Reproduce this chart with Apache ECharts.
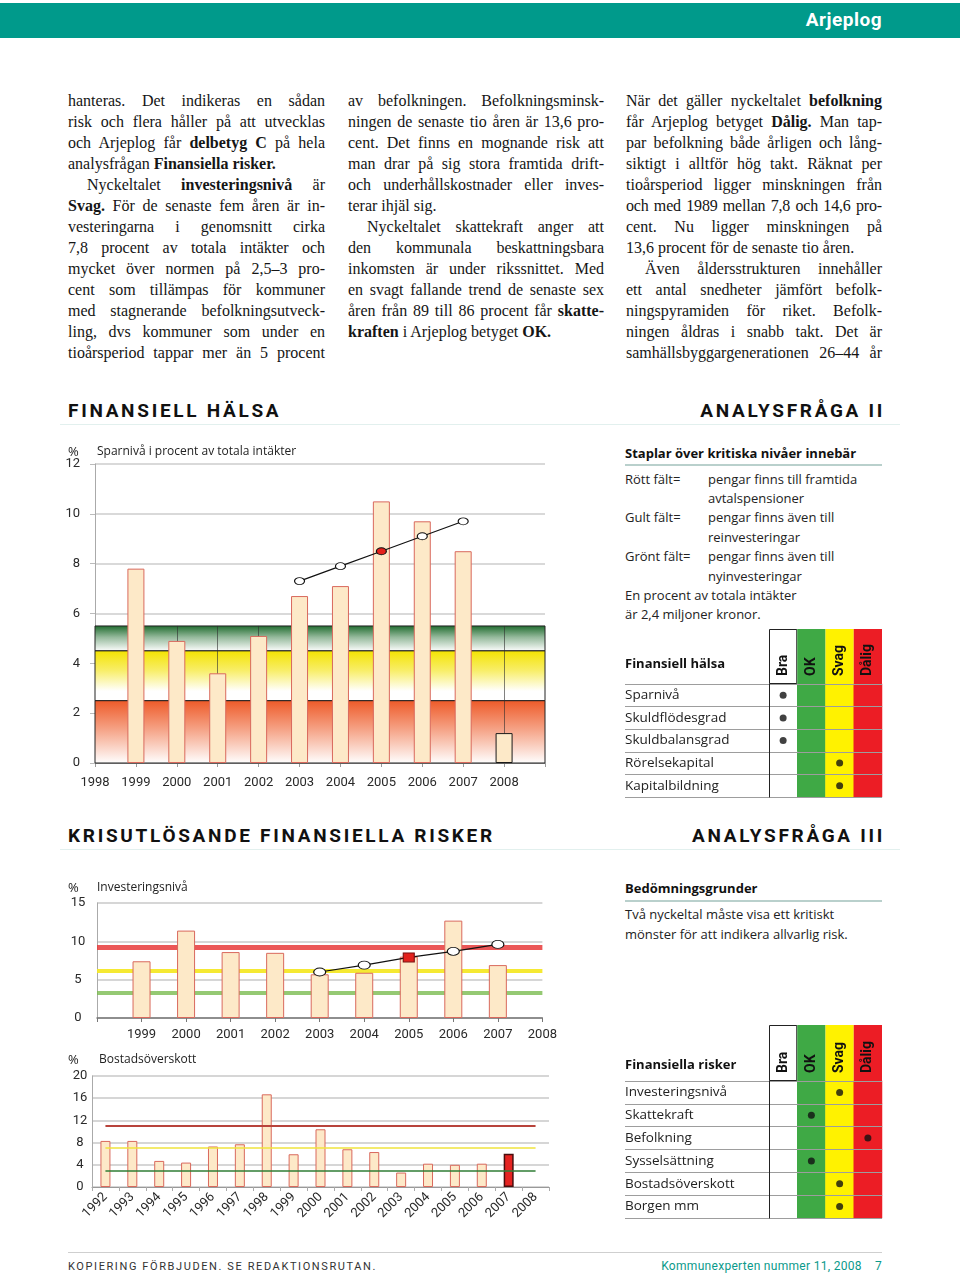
<!DOCTYPE html>
<html lang="sv"><head><meta charset="utf-8"><title>Arjeplog</title>
<script src="https://cdn.jsdelivr.net/npm/echarts@6/dist/echarts.min.js"></script>
<style>
html,body{margin:0;padding:0;}
body{width:960px;height:1277px;position:relative;background:#fff;overflow:hidden;font-family:Roboto,"Noto Sans",sans-serif;color:#1a1a1a;}
.a{position:absolute;}
#topbar{left:0;top:3px;width:960px;height:35px;background:#009a8b;}
#topbar span{position:absolute;right:78px;top:6px;color:#fff;font-weight:bold;font-size:19px;letter-spacing:0.5px;line-height:22px;}
.col{position:absolute;top:89.5px;width:257px;font-family:"Liberation Serif","DejaVu Serif",serif;font-size:16px;line-height:21px;color:#151515;}
.col div{text-align:justify;text-align-last:justify;}
.col div.e{text-align-last:left;}
.col div.i{text-indent:19px;}
.h2{position:absolute;font-weight:bold;font-size:19px;letter-spacing:2.7px;line-height:22px;color:#111;}
.rule{position:absolute;height:1px;background:#e2f0ee;}
.sub{position:absolute;left:625px;font-family:"Open Sans",sans-serif;font-weight:bold;font-size:13px;line-height:16px;color:#111;}
.subrule{position:absolute;left:625px;width:257px;height:1.5px;background:#b9d0cc;}
.legend{position:absolute;left:625px;font-family:"Open Sans",sans-serif;font-size:13px;line-height:19.4px;color:#222;white-space:nowrap;}
.legend .k{display:inline-block;width:83px;}
#foot1{left:68px;top:1260px;font-size:11px;letter-spacing:1.6px;color:#333;line-height:14px;}
#foot2{right:78px;top:1259px;font-size:12px;letter-spacing:0.3px;color:#0b9a8b;line-height:15px;}
</style></head>
<body>
<div id="topbar" class="a"><span>Arjeplog</span></div>

<div class="col" style="left:68px">
<div>hanteras. Det indikeras en sådan</div>
<div>risk och flera håller på att utvecklas</div>
<div>och Arjeplog får <b>delbetyg C</b> på hela</div>
<div class="e">analysfrågan <b>Finansiella risker.</b></div>
<div class="i">Nyckeltalet <b>investeringsnivå</b> är</div>
<div><b>Svag.</b> För de senaste fem åren är in-</div>
<div>vesteringarna i genomsnitt cirka</div>
<div>7,8 procent av totala intäkter och</div>
<div>mycket över normen på 2,5–3 pro-</div>
<div>cent som tillämpas för kommuner</div>
<div>med stagnerande befolkningsutveck-</div>
<div>ling, dvs kommuner som under en</div>
<div>tioårsperiod tappar mer än 5 procent</div>
</div>

<div class="col" style="left:348px;width:256px">
<div>av befolkningen. Befolkningsminsk-</div>
<div>ningen de senaste tio åren är 13,6 pro-</div>
<div>cent. Det finns en mognande risk att</div>
<div>man drar på sig stora framtida drift-</div>
<div>och underhållskostnader eller inves-</div>
<div class="e">terar ihjäl sig.</div>
<div class="i">Nyckeltalet skattekraft anger att</div>
<div>den kommunala beskattningsbara</div>
<div>inkomsten är under rikssnittet. Med</div>
<div>en svagt fallande trend de senaste sex</div>
<div>åren från 89 till 86 procent får <b>skatte-</b></div>
<div class="e"><b>kraften</b> i Arjeplog betyget <b>OK.</b></div>
</div>

<div class="col" style="left:626px;width:256px">
<div>När det gäller nyckeltalet <b>befolkning</b></div>
<div>får Arjeplog betyget <b>Dålig.</b> Man tap-</div>
<div>par befolkning både årligen och lång-</div>
<div>siktigt i alltför hög takt. Räknat per</div>
<div>tioårsperiod ligger minskningen från</div>
<div style="letter-spacing:-0.15px">och med 1989 mellan 7,8 och 14,6 pro-</div>
<div>cent. Nu ligger minskningen på</div>
<div class="e">13,6 procent för de senaste tio åren.</div>
<div class="i">Även åldersstrukturen innehåller</div>
<div>ett antal snedheter jämfört befolk-</div>
<div>ningspyramiden för riket. Befolk-</div>
<div>ningen åldras i snabb takt. Det är</div>
<div>samhällsbyggargenerationen 26–44 år</div>
</div>

<div class="h2" style="left:68px;top:400px">FINANSIELL HÄLSA</div>
<div class="h2" style="right:75px;top:400px">ANALYSFRÅGA II</div>
<div class="rule" style="left:60px;width:840px;top:424px"></div>
<div class="h2" style="left:68px;top:825px">KRISUTLÖSANDE FINANSIELLA RISKER</div>
<div class="h2" style="right:75px;top:825px">ANALYSFRÅGA III</div>
<div class="rule" style="left:60px;width:840px;top:849px"></div>

<div class="sub" style="top:445px">Staplar över kritiska nivåer innebär</div>
<div class="subrule" style="top:464px"></div>
<div class="legend" style="top:469.5px">
<div><span class="k">Rött fält=</span>pengar finns till framtida</div>
<div><span class="k"></span>avtalspensioner</div>
<div><span class="k">Gult fält=</span>pengar finns även till</div>
<div><span class="k"></span>reinvesteringar</div>
<div><span class="k">Grönt fält=</span>pengar finns även till</div>
<div><span class="k"></span>nyinvesteringar</div>
<div>En procent av totala intäkter</div>
<div>är 2,4 miljoner kronor.</div>
</div>

<div class="sub" style="top:880px">Bedömningsgrunder</div>
<div class="subrule" style="top:900px"></div>
<div class="legend" style="top:904px;line-height:20px">
<div>Två nyckeltal måste visa ett kritiskt</div>
<div>mönster för att indikera allvarlig risk.</div>
</div>

<div id="c1" class="a" style="left:60px;top:440px;width:500px;height:370px"></div>
<div id="c2" class="a" style="left:60px;top:875px;width:500px;height:175px"></div>
<div id="c3" class="a" style="left:60px;top:1045px;width:500px;height:200px"></div>
<div id="t1" class="a" style="left:615px;top:620px;width:280px;height:185px"></div>
<div id="t2" class="a" style="left:615px;top:1015px;width:280px;height:210px"></div>

<div class="a" style="left:68px;top:1252px;width:814px;height:1px;background:#cfcfcf"></div>
<div id="foot1" class="a">KOPIERING FÖRBJUDEN. SE REDAKTIONSRUTAN.</div>
<div id="foot2" class="a">Kommunexperten nummer 11, 2008&nbsp;&nbsp;&nbsp;&nbsp;7</div>

<script>
// ---- Data ----
const sparYears = [1999, 2000, 2001, 2002, 2003, 2004, 2005, 2006, 2007, 2008];
const sparValues = [7.8, 4.9, 3.6, 5.1, 6.7, 7.1, 10.5, 9.7, 8.5, 1.2];
const sparTrendYears = [2003, 2004, 2005, 2006, 2007];
const sparTrend = [7.3, 7.9, 8.5, 9.1, 9.7];
const sparTickLabels = [1998, 1999, 2000, 2001, 2002, 2003, 2004, 2005, 2006, 2007, 2008];
const sparBands = [[4.5, 5.5], [2.5, 4.5], [0, 2.5]]; // grönt, gult, rött fält
const sparHighlightYear = 2008;
const sparTrendHighlightYear = 2005;

const invYears = [1999, 2000, 2001, 2002, 2003, 2004, 2005, 2006, 2007];
const invValues = [7.4, 11.4, 8.6, 8.5, 5.7, 5.9, 8.0, 12.7, 6.9];
const invTrendYears = [2003, 2004, 2005, 2006, 2007];
const invTrend = [6.0, 6.9, 7.9, 8.7, 9.6];
const invTickLabels = [1999, 2000, 2001, 2002, 2003, 2004, 2005, 2006, 2007, 2008];
const invLevels = [9.25, 6.2, 3.25]; // röd, gul, grön nivå
const invTrendHighlightYear = 2005;

const bostYears = ['1992','1993','1994','1995','1996','1997','1998','1999','2000','2001','2002','2003','2004','2005','2006','2007','2008'];
const bostValues = [8.3, 8.3, 4.7, 4.4, 7.3, 7.7, 16.7, 5.9, 10.4, 6.8, 6.3, 2.6, 4.2, 4.0, 4.2, 6.0, null];
const bostLevels = [11, 7, 3]; // röd, gul, grön nivå
const bostHighlightYear = '2007';

const ratingCols = ['Bra', 'OK', 'Svag', 'Dålig'];
const halsaRows = ['Sparnivå', 'Skuldflödesgrad', 'Skuldbalansgrad', 'Rörelsekapital', 'Kapitalbildning'];
const halsaRatings = ['Bra', 'Bra', 'Bra', 'Svag', 'Svag'];
const riskRows = ['Investeringsnivå', 'Skattekraft', 'Befolkning', 'Sysselsättning', 'Bostadsöverskott', 'Borgen mm'];
const riskRatings = ['Svag', 'OK', 'Dålig', 'OK', 'Svag', 'Svag'];

// ---- Styles ----
const AX = {fontFamily: 'Roboto', fontSize: 13, color: '#2a2a2a'};
const TT = {fontFamily: 'Open Sans', fontSize: 12, fontWeight: 'normal', color: '#222'};
const BAR_FILL = '#fde9c8', BAR_EDGE = '#d9695d';
function grad(stops) {
  return new echarts.graphic.LinearGradient(0, 0, 0, 1, stops.map(s => ({offset: s[0], color: s[1]})));
}
const BAND_STOPS = [
  [[0, '#1d6a2c'], [0.45, '#94b99b'], [1, '#ffffff']],
  [[0, '#f4e300'], [0.4, '#f8ee6a'], [0.8, '#ffffff'], [1, '#ffffff']],
  [[0, '#ee5a28'], [0.45, '#f5a184'], [1, '#ffffff']]
];

// ---- Chart 1: Sparnivå ----
const c1 = echarts.init(document.getElementById('c1'));
c1.setOption({
  animation: false,
  title: [
    {text: '%', left: 8, top: 6, padding: 0, textStyle: Object.assign({}, TT, {fontSize: 13})},
    {text: 'Sparnivå i procent av totala intäkter', left: 37, top: 6, padding: 0, textStyle: TT}
  ],
  grid: {left: 35, top: 24, width: 450, height: 299},
  xAxis: {
    type: 'value', min: 1998, max: 2009, interval: 1,
    splitLine: {show: false},
    axisLine: {lineStyle: {color: '#9a9a9a'}},
    axisTick: {show: true, length: 4, lineStyle: {color: '#9a9a9a'}},
    axisLabel: Object.assign({}, AX, {margin: 13, showMinLabel: true, showMaxLabel: true,
      formatter: v => sparTickLabels.includes(v) ? String(v) : ''})
  },
  yAxis: {
    type: 'value', min: 0, max: 12, interval: 2,
    axisLine: {show: true, lineStyle: {color: '#aaaaaa'}},
    axisTick: {show: true, length: 5, lineStyle: {color: '#bbbbbb'}},
    splitLine: {lineStyle: {color: '#cccccc', width: 1.5}},
    axisLabel: Object.assign({}, AX, {margin: 15})
  },
  series: [
    {
      type: 'line', z: 1, silent: true, symbol: 'none', lineStyle: {opacity: 0},
      data: sparYears.map((y, i) => [y, sparValues[i]]),
      markArea: {
        silent: true, z: 1,
        data: sparBands.map((b, i) => [
          {yAxis: b[1], itemStyle: {color: grad(BAND_STOPS[i]), borderColor: '#222', borderWidth: 1}},
          {yAxis: b[0]}
        ])
      },
      markLine: {
        silent: true, z: 1, symbol: 'none', label: {show: false},
        lineStyle: {color: 'rgba(45,45,45,0.6)', width: 1, type: 'solid'},
        data: sparYears.map(y => [{coord: [y, 0]}, {coord: [y, sparBands[0][1]]}])
      }
    },
    {
      type: 'bar', z: 2, barWidth: 17, silent: true,
      itemStyle: {color: BAR_FILL, borderColor: BAR_EDGE, borderWidth: 1},
      data: sparYears.map((y, i) => ({
        value: [y, sparValues[i]],
        itemStyle: y === sparHighlightYear ? {borderColor: '#1a1a1a'} : {}
      }))
    },
    {
      type: 'line', z: 3, silent: true, symbol: 'circle', symbolSize: [10, 7],
      lineStyle: {color: '#111', width: 1.2},
      itemStyle: {color: '#fff', borderColor: '#111', borderWidth: 1},
      data: sparTrendYears.map((y, i) => ({
        value: [y, sparTrend[i]],
        itemStyle: y === sparTrendHighlightYear ? {color: '#e3211c'} : {}
      }))
    }
  ]
});

// ---- Chart 2: Investeringsnivå ----
const INV_LEVEL_STYLES = [
  {color: 'rgba(232,58,58,0.85)', width: 5},
  {color: 'rgba(244,232,40,0.95)', width: 4},
  {color: 'rgba(122,188,80,0.8)', width: 4}
];
const c2 = echarts.init(document.getElementById('c2'));
c2.setOption({
  animation: false,
  title: [
    {text: '%', left: 8, top: 7, padding: 0, textStyle: Object.assign({}, TT, {fontSize: 13})},
    {text: 'Investeringsnivå', left: 37, top: 7, padding: 0, textStyle: TT}
  ],
  grid: {left: 37, top: 28, width: 446, height: 115},
  xAxis: {
    type: 'value', min: 1998, max: 2008, interval: 1,
    splitLine: {show: false},
    axisLine: {lineStyle: {color: '#777', width: 1.5}},
    axisTick: {show: true, length: 4, lineStyle: {color: '#777'}},
    axisLabel: Object.assign({}, AX, {margin: 10, showMinLabel: true, showMaxLabel: true,
      formatter: v => invTickLabels.includes(v) ? String(v) : ''})
  },
  yAxis: {
    type: 'value', min: 0, max: 15, interval: 5,
    axisLine: {show: true, lineStyle: {color: '#aaaaaa'}},
    axisTick: {show: false},
    splitLine: {lineStyle: {color: '#c8c8c8', width: 1.5}},
    axisLabel: Object.assign({}, AX, {margin: 19, align: 'center'})
  },
  series: [
    {
      type: 'line', z: 1, silent: true, symbol: 'none', lineStyle: {opacity: 0},
      data: invYears.map((y, i) => [y, invValues[i]]),
      markLine: {
        silent: true, z: 1, symbol: 'none', label: {show: false},
        data: invLevels.map((v, i) => ({yAxis: v, lineStyle: Object.assign({type: 'solid'}, INV_LEVEL_STYLES[i])}))
      }
    },
    {
      type: 'bar', z: 2, barWidth: 18, silent: true,
      itemStyle: {color: BAR_FILL, borderColor: BAR_EDGE, borderWidth: 1},
      data: invYears.map((y, i) => [y, invValues[i]])
    },
    {
      type: 'line', z: 3, silent: true, symbol: 'circle', symbolSize: [12, 8],
      lineStyle: {color: '#111', width: 1.2},
      itemStyle: {color: '#fff', borderColor: '#111', borderWidth: 1},
      data: invTrendYears.map((y, i) => (y === invTrendHighlightYear
        ? {value: [y, invTrend[i]], symbol: 'rect', symbolSize: [11, 9], itemStyle: {color: '#e3211c', borderColor: '#7a1010'}}
        : {value: [y, invTrend[i]]}))
    }
  ]
});

// ---- Chart 3: Bostadsöverskott ----
const BOST_LEVEL_STYLES = [
  {color: '#b8433b', width: 2},
  {color: '#efe33c', width: 1.5},
  {color: '#2f7d35', width: 1.5}
];
const c3 = echarts.init(document.getElementById('c3'));
c3.setOption({
  animation: false,
  title: [
    {text: '%', left: 8, top: 9, padding: 0, textStyle: Object.assign({}, TT, {fontSize: 13})},
    {text: 'Bostadsöverskott', left: 39, top: 9, padding: 0, textStyle: TT}
  ],
  grid: {left: 32, top: 31, width: 457, height: 111},
  xAxis: {
    type: 'category', data: bostYears,
    axisLine: {lineStyle: {color: '#999'}},
    axisTick: {show: true, length: 4, lineStyle: {color: '#aaa'}},
    axisLabel: Object.assign({}, AX, {rotate: 45, margin: 8, interval: 0})
  },
  yAxis: {
    type: 'value', min: 0, max: 20, interval: 4,
    axisLine: {show: true, lineStyle: {color: '#aaaaaa'}},
    axisTick: {show: false},
    splitLine: {lineStyle: {color: '#c8c8c8', width: 1.5}},
    axisLabel: Object.assign({}, AX, {margin: 12, align: 'center'})
  },
  series: [
    {
      type: 'bar', barWidth: 10, silent: true,
      itemStyle: {color: BAR_FILL, borderColor: BAR_EDGE, borderWidth: 1},
      data: bostYears.map((y, i) => ({
        value: bostValues[i],
        itemStyle: y === bostHighlightYear ? {color: '#e52321', borderColor: '#4a0d0d', borderWidth: 1.5} : {}
      })),
      markLine: {
        silent: true, symbol: 'none', label: {show: false},
        data: bostLevels.map((v, i) => [
          {coord: [bostYears[0], v], lineStyle: Object.assign({type: 'solid'}, BOST_LEVEL_STYLES[i])},
          {coord: [bostYears[bostYears.length - 1], v]}
        ])
      }
    }
  ]
});

// ---- Rating tables ----
const COL_COLORS = ['#ffffff', '#3fa945', '#fff200', '#ec1d25'];
function ratingTable(el, title, titleTop, rows, ratings, L) {
  const ch = echarts.init(el);
  ch.setOption({
    animation: false,
    title: {text: title, left: 10, top: titleTop, padding: 0,
      textStyle: {fontFamily: 'Open Sans', fontSize: 13, fontWeight: 'bold', color: '#111'}},
    visualMap: {type: 'piecewise', show: false, seriesIndex: 1, dimension: 2,
      pieces: COL_COLORS.map((c, i) => ({value: i, color: c}))},
    grid: [
      {left: 154, width: 113, top: L.hTop, height: L.hH},
      {left: 154, width: 113, top: L.rTop, height: L.rH}
    ],
    xAxis: [
      {gridIndex: 0, type: 'category', data: ratingCols, show: false},
      {gridIndex: 1, type: 'category', data: ratingCols, show: false}
    ],
    yAxis: [
      {gridIndex: 0, type: 'value', min: 0, max: 1, show: false},
      {gridIndex: 1, type: 'category', data: rows, inverse: true, z: 10,
        axisLine: {show: true, lineStyle: {color: '#222', width: 1}},
        axisTick: {show: true, length: 144, lineStyle: {color: '#9d9d9d'}},
        splitLine: {show: true, lineStyle: {color: '#9d9d9d'}},
        axisLabel: {interval: 0, align: 'left', margin: 144, fontFamily: 'Open Sans', fontSize: 13.5, color: '#222'}}
    ],
    series: [
      {type: 'bar', xAxisIndex: 0, yAxisIndex: 0, barCategoryGap: '0%', silent: true,
        data: ratingCols.map((c, i) => ({value: 1, itemStyle: {color: COL_COLORS[i],
          borderColor: i === 0 ? '#222' : COL_COLORS[i], borderWidth: i === 0 ? 1 : 0}})),
        label: {show: true, position: 'insideBottom', distance: 8, rotate: 90, align: 'left',
          verticalAlign: 'middle', formatter: '{b}', fontFamily: 'Roboto', fontWeight: 'bold', fontSize: 14, color: '#111'}},
      {type: 'heatmap', xAxisIndex: 1, yAxisIndex: 1, silent: true,
        data: rows.flatMap((r, ri) => ratingCols.map((c, ci) => [ci, ri, ci]))},
      {type: 'scatter', xAxisIndex: 1, yAxisIndex: 1, silent: true, symbolSize: 7, z: 4,
        itemStyle: {color: '#111'}, data: rows.map((r, i) => [ratings[i], r])}
    ]
  });
}
ratingTable(document.getElementById('t1'), 'Finansiell hälsa', 38, halsaRows, halsaRatings,
  {hTop: 9, hH: 55, rTop: 64, rH: 113});
ratingTable(document.getElementById('t2'), 'Finansiella risker', 44, riskRows, riskRatings,
  {hTop: 10, hH: 56, rTop: 66, rH: 137});
</script>
</body></html>
